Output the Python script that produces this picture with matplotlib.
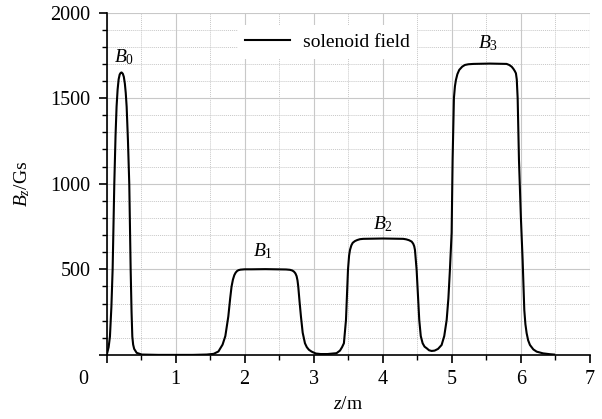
import numpy as np
import matplotlib
matplotlib.use("Agg")
import matplotlib.pyplot as plt
from matplotlib.ticker import MultipleLocator

# Solenoid field profile
z_m = [0.00, 0.01, 0.03, 0.049, 0.07, 0.088, 0.112, 0.13, 0.145, 0.16, 0.175, 0.19, 0.205,
       0.218, 0.235, 0.25, 0.265, 0.278, 0.291, 0.31, 0.329, 0.349, 0.362, 0.373, 0.385,
       0.40, 0.436, 0.51, 0.75, 1.0, 1.25, 1.45, 1.55, 1.62, 1.68, 1.72, 1.763, 1.79,
       1.81, 1.83, 1.85, 1.87, 1.89, 1.91, 1.94, 2.0, 2.1, 2.3, 2.5, 2.6, 2.656, 2.69,
       2.715, 2.735, 2.752, 2.765, 2.776, 2.795, 2.815, 2.84, 2.873, 2.90, 2.93, 2.97,
       3.03, 3.10, 3.20, 3.28, 3.33, 3.38, 3.41, 3.437, 3.467, 3.496, 3.512, 3.525,
       3.545, 3.565, 3.597, 3.63, 3.67, 3.717, 4.0, 4.296, 4.34, 4.38, 4.418, 4.44,
       4.455, 4.466, 4.49, 4.528, 4.55, 4.577, 4.605, 4.635, 4.67, 4.707, 4.75, 4.80,
       4.852, 4.89, 4.925, 4.95, 4.972, 4.997, 5.011, 5.03, 5.045, 5.059, 5.08, 5.107,
       5.15, 5.19, 5.24, 5.31, 5.55, 5.793, 5.83, 5.866, 5.89, 5.912, 5.928, 5.94,
       5.953, 5.972, 6.00, 6.025, 6.049, 6.065, 6.083, 6.105, 6.131, 6.18, 6.228, 6.32,
       6.42, 6.48]
bz_gs = [0, 12, 45, 107, 280, 500, 997, 1280, 1450, 1550, 1610, 1638, 1648,
         1650, 1643, 1625, 1585, 1530, 1450, 1250, 997, 500, 250, 107, 60,
         35, 12, 2, 0, 0, 0, 2, 6, 20, 60, 110, 224, 330,
         399, 440, 466, 481, 490, 495, 498, 500, 500, 501, 500, 499, 497, 493,
         486, 476, 460, 435, 399, 310, 224, 130, 68, 45, 30, 19,
         8, 5, 5, 8, 10, 25, 45, 68, 204, 497, 580, 613,
         640, 655, 665, 671, 676, 678, 680, 678, 675, 670, 662, 650,
         635, 613, 497, 204, 110, 68, 48, 39, 27, 23, 25, 35,
         58, 110, 204, 330, 497, 714, 1139, 1500, 1570, 1606, 1640, 1665,
         1684, 1694, 1698, 1700, 1702, 1700, 1694, 1684, 1672, 1658, 1645, 1610,
         1500, 1139, 800, 555, 263, 180, 127, 85, 58, 32, 19, 9,
         4, 2]

peak_labels = [r"$B_0$", r"$B_1$", r"$B_2$", r"$B_3$"]
peak_label_z = [0.25, 2.27, 4.0, 5.53]
peak_label_b = [1739, 608, 765, 1820]

x_ticks = [0, 1, 2, 3, 4, 5, 6, 7]
x_tick_labels = ["", "1", "2", "3", "4", "5", "6", "7"]
y_ticks = [0, 500, 1000, 1500, 2000]
y_tick_labels = ["", "500", "1000", "1500", "2000"]

plt.rcParams["font.family"] = "Liberation Serif"
plt.rcParams["mathtext.fontset"] = "custom"
plt.rcParams["mathtext.rm"] = "Liberation Serif"
plt.rcParams["mathtext.it"] = "Liberation Serif:italic"

fig = plt.figure(figsize=(6.02, 4.19), dpi=100)
ax = fig.add_axes([0.177, 0.153, 0.803, 0.817])

ax.plot(z_m, bz_gs, color="black", lw=1.5, label="solenoid field", zorder=3)

ax.set_xlim(0, 7)
ax.set_ylim(0, 2000)
ax.set_xticks(x_ticks, x_tick_labels)
ax.set_yticks(y_ticks, y_tick_labels)
ax.xaxis.set_minor_locator(MultipleLocator(0.5))
ax.yaxis.set_minor_locator(MultipleLocator(100))

ax.grid(which="major", color="#c8c8c8", lw=0.8, ls="-", zorder=0)
ax.grid(which="minor", color="#c8c8c8", lw=0.7, ls=(0, (1, 1)), zorder=0)
ax.set_axisbelow(True)

for side in ["top", "right"]:
    ax.spines[side].set_visible(False)
for side in ["left", "bottom"]:
    ax.spines[side].set_linewidth(1.2)

ax.tick_params(which="major", direction="out", length=6, width=1.2, labelsize=14.5)
ax.tick_params(which="minor", direction="out", length=3.5, width=1.0)
ax.tick_params(axis="x", which="major", pad=5)
ax.tick_params(axis="y", which="major", pad=5.5)

# origin "0" sits left of the axis corner in the reference
ax.annotate("0", xy=(0, 0), xycoords="data", xytext=(-16.6, -11),
            textcoords="offset points", ha="center", va="top", fontsize=14.5)

ax.set_xlabel(r"$z$/m", fontsize=14, labelpad=5)
ax.set_ylabel(r"$B_z$/Gs", fontsize=14, labelpad=13)

for txt, zx, by in zip(peak_labels, peak_label_z, peak_label_b):
    ax.text(zx, by, txt, fontsize=14, ha="center", va="center")

leg = ax.legend(loc="center left", bbox_to_anchor=(0.271, 0.914), borderaxespad=0,
                fontsize=14, frameon=True, handlelength=2.3, handletextpad=0.65,
                borderpad=0.4)
leg.get_frame().set_facecolor("white")
leg.get_frame().set_edgecolor("none")
leg.get_frame().set_alpha(1)

fig.savefig("out.png", dpi=100)
